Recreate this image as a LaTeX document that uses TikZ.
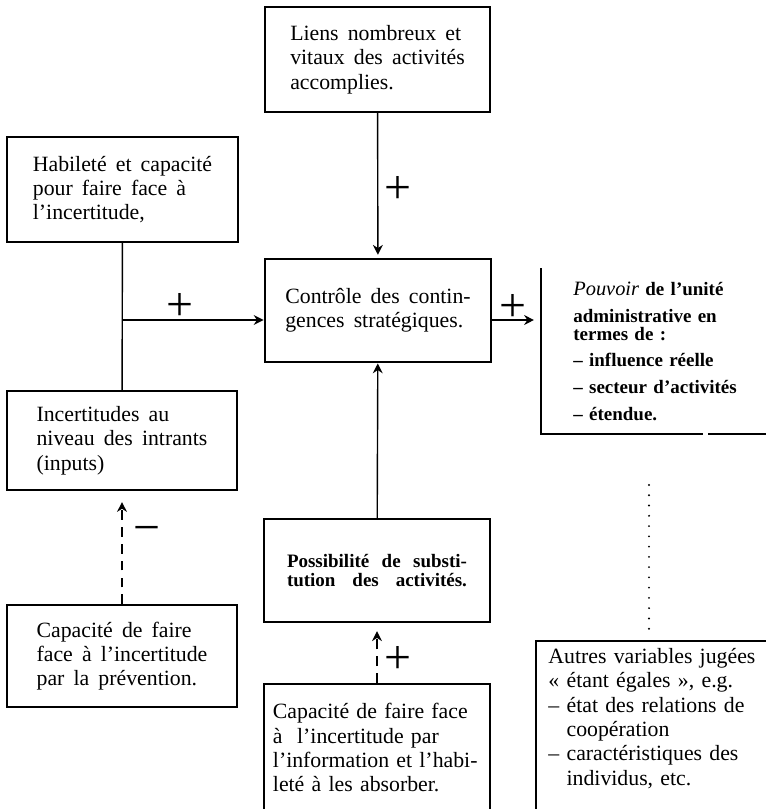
\documentclass[tikz,border=0pt]{standalone}
\usepackage{fontspec}
\setmainfont{Liberation Serif}
\usetikzlibrary{arrows.meta}

\begin{document}
\begin{tikzpicture}[x=0.025cm,y=-0.025cm,
    txt/.style={font={\fontsize{15.5}{17.3}\selectfont\spaceskip=0.42em plus 0.2em minus 0.05em\relax}},
    box/.style={draw,line width=1.1pt,txt,align=left,inner sep=0pt},
    arr/.style={line width=1pt,-{Stealth[length=7pt,width=7pt]}},
    brokenarr/.style={arr,dash pattern=on 7pt off 5pt},
    dotline/.style={line width=1.5pt,line cap=round,dash pattern=on 0pt off 7.3pt},
    sign/.style={font=\fontsize{34}{34}\selectfont,inner sep=0pt}]
\useasboundingbox (0,0) rectangle (765,809);

\node[box,minimum width=5.625cm,minimum height=2.625cm] (liens) at (377.5,59.5) {Liens nombreux et\\vitaux des activités\\accomplies.};
\node[box,minimum width=5.775cm,minimum height=2.625cm] (habil) at (122.5,189.5) {Habileté et capacité\\pour faire face à\\l'incertitude,};
\node[box,line width=2pt,minimum width=5.65cm,minimum height=2.575cm] (ctrl) at (378,310.5) {Contrôle des contin-\\gences stratégiques.};
\node[box,minimum width=5.75cm,minimum height=2.475cm] (incert) at (122,440.5) {Incertitudes au\\niveau des intrants\\(inputs)};
\node[box,minimum width=5.75cm,minimum height=2.55cm] (prevent) at (122,656) {Capacité de faire\\face à l'incertitude\\par la prévention.};
\node[box,minimum width=5.65cm,minimum height=2.575cm,font=\fontsize{13.5}{13}\selectfont\bfseries] (subst) at (377,570.5) {\makebox[128pt][s]{Possibilité de substi-}\\\makebox[128pt][s]{tution des activités.}};
\node[box,anchor=north,minimum width=5.65cm,text width=148pt,inner ysep=14pt,text depth=150pt] (absorb) at (377,683) {Capacité de faire face\\à\ \ l'incertitude par\\l'information et l'habi-\\leté à les absorber.};
\node[box,anchor=north west,text width=156pt,inner xsep=9pt,inner ysep=5.5pt,text depth=150pt] (autres) at (535,640) {Autres variables jugées\\« étant égales », e.g.\\– état des relations de\\\phantom{– }coopération\\– caractéristiques des\\\phantom{– }individus, etc.};
\node[anchor=north west,text width=135pt,inner xsep=22.8pt,inner ysep=10pt,align=left,font=\fontsize{13.5}{19}\selectfont\bfseries] (pouvoir) at (541,268) {{\fontsize{14.5}{19}\selectfont\textit{\mdseries Pouvoir}} de l'unité\\administrative en\\[-6.5pt]termes de :\\– influence réelle\\– secteur d'activités\\– étendue.};

\coordinate (barbot) at (541,434);
\coordinate (gapl) at (703,434);
\coordinate (gapr) at (708,434);
\coordinate (edge) at (775,434);
\draw[line width=1pt] (pouvoir.north west) -- (barbot) -- (gapl) (gapr) -- (edge);

\coordinate (lvl) at (0,320);
\draw[arr,shorten >=2pt] (liens) -- (ctrl);
\draw[line width=1pt] (habil) -- (incert);
\draw[arr] (habil.south |- lvl) -- (ctrl.west |- lvl);
\draw[arr,shorten >=5pt] (ctrl.east |- lvl) -- (pouvoir.west |- lvl);
\draw[arr] (subst) -- (ctrl);
\draw[brokenarr,shorten >=8pt] (prevent) -- (incert);
\draw[brokenarr,shorten >=6pt] (absorb.north) -- (subst);
\coordinate (dottop) at (649,485);
\draw[dotline,shorten >=6pt] (dottop) -- (dottop |- autres.north);

\node[sign] (plusa) at (398,190) {+};
\node[sign] (plusb) at (180,307) {+};
\node[sign] (plusc) at (513,308) {+};
\node[sign] (plusd) at (398,660) {+};
\node[sign] (minusa) at (147,535) {−};
\end{tikzpicture}
\end{document}
